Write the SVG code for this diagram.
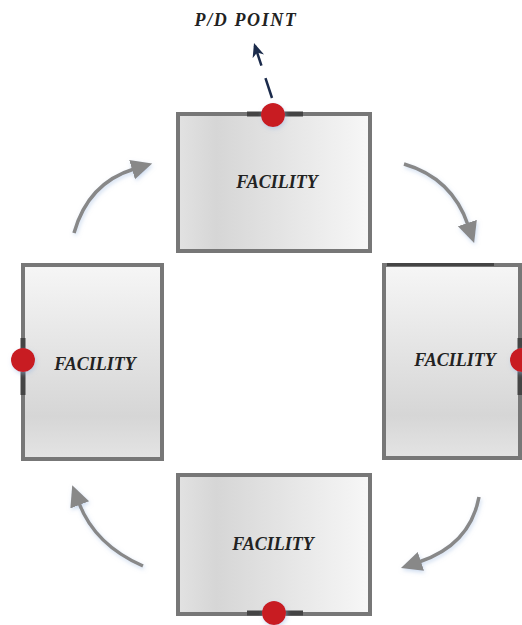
<svg xmlns="http://www.w3.org/2000/svg" width="522" height="625" viewBox="0 0 522 625">
<style>
.box{stroke:#777;stroke-width:4}
.bar{stroke:#444;stroke-width:5}
.pt{fill:#c81e24;filter:url(#glow)}
.lbl{font-family:"Liberation Serif","Times New Roman",serif;font-weight:bold;font-style:italic;font-size:18px;fill:#222;text-anchor:middle}
.flow{fill:none;stroke:#888;stroke-width:3.5;marker-end:url(#ah);filter:url(#glow)}
</style>
<defs>
<linearGradient id="gh" x1="0" y1="0" x2="1" y2="0">
<stop offset="0" stop-color="#e2e2e2"/>
<stop offset="0.2" stop-color="#d6d6d6"/>
<stop offset="1" stop-color="#f7f7f7"/>
</linearGradient>
<linearGradient id="gv" x1="0" y1="0" x2="0" y2="1">
<stop offset="0" stop-color="#f6f6f6"/>
<stop offset="0.78" stop-color="#d6d6d6"/>
<stop offset="1" stop-color="#e4e4e4"/>
</linearGradient>
<filter id="glow" x="-50%" y="-50%" width="200%" height="200%">
<feDropShadow dx="1" dy="2" stdDeviation="2" flood-color="#9bb8e0" flood-opacity="0.5"/>
</filter>
<marker id="ah" markerUnits="userSpaceOnUse" markerWidth="24" markerHeight="22" viewBox="0 0 24 22" refX="2" refY="10" orient="auto">
<path d="M0,0 L21,10 L0,20 z" fill="#888"/>
</marker>
<marker id="nav" markerUnits="userSpaceOnUse" markerWidth="16" markerHeight="14" viewBox="0 0 16 14" refX="14" refY="6" orient="auto">
<path d="M0,0 L14,6 L0,12 L4,6 z" fill="#1b2b4b"/>
</marker>
</defs>
<g id="connectors">
<path class="flow" d="M74,233 Q88,183 134,169"/>
<path class="flow" d="M404,164 Q452,178 468,225"/>
<path class="flow" d="M479,497 Q470,545 419,562"/>
<path class="flow" d="M143,566 Q95,545 79,503"/>
<path d="M272,98 L254,43" fill="none" stroke="#1b2b4b" stroke-width="2.5" stroke-dasharray="21,13" marker-end="url(#nav)"/>
</g>
<g id="pd-label">
<text class="lbl" x="246" y="26" style="letter-spacing:1.6px">P/D POINT</text>
</g>
<g id="facility-top">
<rect class="box" x="178" y="114" width="192" height="137" fill="url(#gh)"/>
<line class="bar" x1="247" y1="114" x2="303" y2="114"/>
<circle class="pt" cx="273" cy="115" r="12"/>
<text class="lbl" x="277" y="188">FACILITY</text>
</g>
<g id="facility-right">
<rect class="box" x="384" y="265" width="136" height="193" fill="url(#gv)"/>
<line x1="387" y1="264.5" x2="494" y2="264.5" stroke="#444" stroke-width="3"/>
<line class="bar" x1="520" y1="338" x2="520" y2="395"/>
<circle class="pt" cx="522" cy="360" r="12"/>
<text class="lbl" x="455" y="366">FACILITY</text>
</g>
<g id="facility-left">
<rect class="box" x="23" y="265" width="139" height="194" fill="url(#gv)"/>
<line class="bar" x1="23" y1="338" x2="23" y2="395"/>
<circle class="pt" cx="23" cy="360" r="12"/>
<text class="lbl" x="95" y="370">FACILITY</text>
</g>
<g id="facility-bottom">
<rect class="box" x="178" y="475" width="192" height="139" fill="url(#gh)"/>
<line class="bar" x1="247" y1="613" x2="303" y2="613"/>
<circle class="pt" cx="274" cy="613" r="12"/>
<text class="lbl" x="273" y="550">FACILITY</text>
</g>
</svg>
